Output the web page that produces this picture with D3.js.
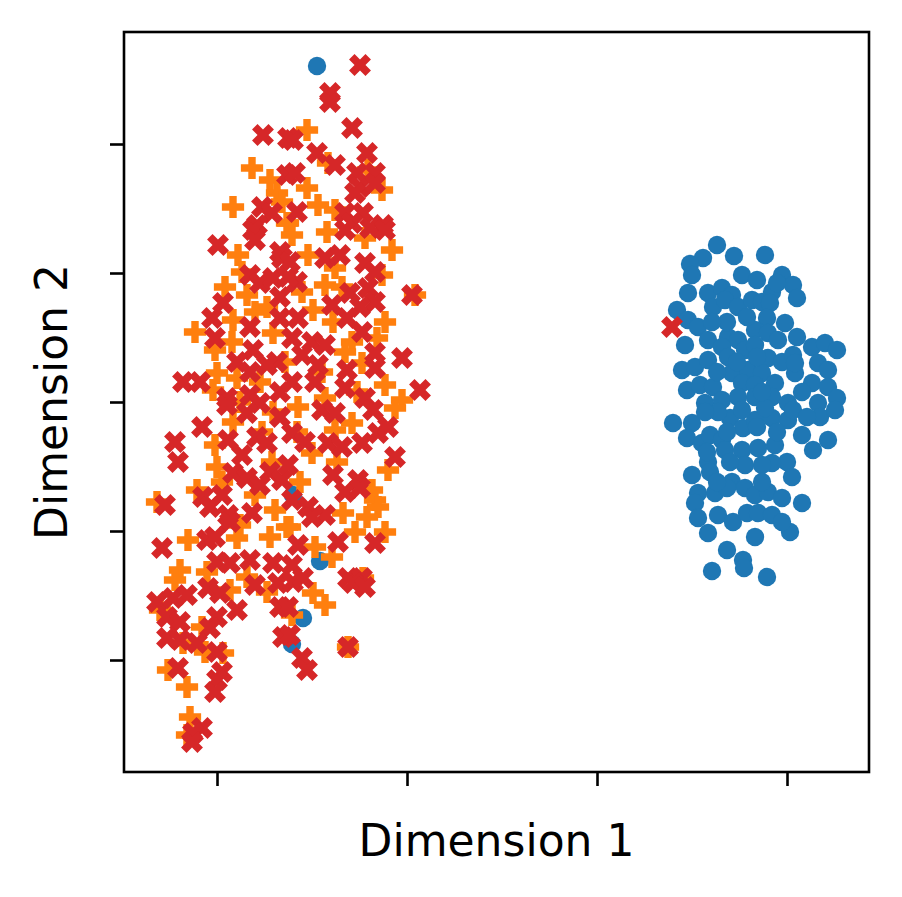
<!DOCTYPE html>
<html>
<head>
<meta charset="utf-8">
<script src="https://cdn.jsdelivr.net/npm/d3@7"></script>
<style>
  body { margin: 0; background: #fff; }
  text { font-family: "DejaVu Sans", sans-serif; }
</style>
</head>
<body>
<svg id="chart" width="902" height="897"></svg>
<script>
// cluster of blue dots (class 0)
var blueX = [12.0,13.7,16.8,10.6,9.3,9.5,14.5,16.0,18.5,19.6,20.0,9.1,11.1,12.5,13.5,11.6,12.8,14.1,15.5,16.5,17.5,18.0,17.3,8.0,9.1,17.0,18.8,10.1,13.1,15.8,17.1,18.1,8.8,11.1,14.1,12.5,14.8,15.8,21.5,22.8,24.0,8.5,9.8,11.1,13.1,17.1,18.5,19.6,22.1,23.1,13.5,15.1,16.5,19.8,9.0,10.3,11.6,14.5,15.8,17.8,21.5,23.1,24.0,10.8,12.5,14.1,15.8,17.5,19.1,22.1,19.8,
  7.6,9.5,9.0,10.5,11.3,12.5,13.3,14.6,15.8,17.5,19.1,20.5,22.3,23.8,21.6,23.1,12.8,14.5,16.1,17.8,19.0,17.5,16.5,14.8,13.3,11.1,9.5,11.3,13.5,14.8,15.8,17.1,18.5,20.5,10.1,11.8,9.8,13.0,10.1,12.1,13.6,15.0,16.1,17.5,11.1,15.8,19.3,13.0,14.6,14.7,11.5,17.0,12.1,10.8,14.5,16.8,19.6,
  16.0,18.0,13.0,11.0,16.5,19.5,12.0,14.0,16.0,20.5,21.0,13.0,15.0,11.5,20.0,16.5,12.0,18.5,
  -28.0,-30.4,-27.7,-29.4,-30.5];
var blueY = [15.7,14.6,14.7,14.4,13.8,12.7,12.7,12.2,12.7,11.7,10.4,10.9,10.9,11.4,10.7,9.5,10.2,9.5,10.2,10.0,11.0,11.9,9.9,9.2,8.2,8.4,7.9,7.5,6.5,7.2,6.9,6.2,5.7,6.2,6.2,5.5,5.2,5.7,5.5,5.9,5.2,3.2,3.5,4.2,4.5,4.4,4.0,4.7,3.9,3.2,2.9,3.2,2.9,2.9,1.2,1.7,1.5,1.9,1.7,1.9,1.9,1.5,0.4,-0.1,0.2,0.5,0.5,0.5,-0.1,-0.1,3.9,
  -2.1,-2.1,-3.6,-4.1,-3.3,-3.8,-1.6,-2.6,-1.8,-1.6,-1.8,-3.3,-1.5,-0.8,-4.8,-3.8,-4.8,-4.8,-4.6,-4.3,-6.0,-6.1,-6.3,-6.3,-6.0,-6.0,-7.3,-7.0,-8.0,-8.6,-9.3,-9.0,-9.6,-10.1,-9.1,-9.1,-10.1,-8.6,-11.6,-11.3,-12.0,-11.1,-11.1,-11.3,-13.1,-13.5,-13.0,-14.8,-15.8,-16.6,-16.9,-17.5,-1.0,-1.0,-0.8,-0.6,-0.8,
  -2.5,-3.0,-3.0,-5.0,-8.0,-7.5,3.0,4.0,4.5,1.0,-1.5,8.0,8.5,8.0,6.5,1.0,-8.0,-12.0,
  33.6,-9.3,-15.9,-21.6,-24.2];

// orange plus markers (class 1)
var orangeX = [-34.5,-32.7,-36.4,-32.0,-31.0,
  -29.0,-26.9,-22.9,-21.5,-29.0,-27.9,-26.2,-30.9,
  -35.9,-37.2,-35.0,-34.2,-36.4,-40.2,-32.4,-38.2,-38.0,-36.0,-33.7,-38.4,-35.7,
  -30.5,-23.2,-20.5,-28.9,-26.2,-21.5,-27.2,-18.2,-28.4,-21.2,-26.4,-24.5,-22.0,-25.2,-23.5,-31.2,-21.2,-27.2,-19.5,
  -36.4,-32.4,-38.2,-38.0,-32.5,-40.0,-34.2,-44.0,-32.2,-35.7,-36.0,-40.9,-32.7,-41.7,-31.0,
  -29.9,-20.2,-24.5,-28.5,-20.9,-26.2,-29.7,-22.2,-22.5,-25.4,-21.9,-30.7,-24.2,-21.2,-26.5,-28.2,
  -42.2,-36.7,-35.0,-43.7,-39.5,-37.4,-41.4,-39.2,-42.9,-41.0,-40.7,-41.0,
  -28.4,-27.2,-23.4,-30.5,-24.9,
  -35.5,-33.0,-36.5,-29.5,-27.5,-24.0,-33.5,-37.5,-30.0,-26.0,-23.0,-39.0,-33.0,-27.0,-31.5,-25.5];
var orangeY = [23.4,22.2,19.5,20.9,17.9,
  27.2,23.9,23.2,21.2,21.4,19.7,19.2,17.9,
  14.7,11.5,10.7,9.0,8.2,7.0,6.9,5.2,2.9,2.4,2.0,1.2,0.0,
  16.7,16.4,15.2,14.7,13.4,12.7,11.7,10.7,9.2,8.0,8.0,6.0,6.4,5.0,3.9,4.0,1.7,0.4,0.2,
  -2.0,-1.0,-4.3,-6.5,-6.0,-8.8,-9.3,-10.0,-10.8,-12.3,-13.6,-13.8,-13.5,-16.8,-12.5,
  -0.5,-0.6,-2.1,-5.1,-6.8,-2.8,-8.0,-9.8,-8.8,-11.1,-10.5,-12.5,-13.0,-13.0,-15.5,-14.5,
  -17.8,-18.8,-17.5,-20.8,-22.5,-25.1,-24.1,-25.0,-26.8,-28.5,-31.5,-33.3,
  -19.1,-20.3,-17.6,-21.3,-24.5,
  13.0,9.5,6.0,11.0,3.0,1.0,-3.0,-8.0,-3.0,-6.0,-11.5,-17.0,-19.0,17.0,20.0,11.5];

// red x markers (class 2)
var redX = [-33.4,-30.9,-31.0,-33.5,-32.5,-34.0,
  -23.7,-26.7,-26.7,-24.5,-30.4,-28.0,-23.0,-26.2,-30.2,-24.0,-22.2,-23.7,-22.2,-24.2,-30.0,-25.2,-23.4,-24.5,-21.4,
  -34.4,-34.2,-37.9,-31.7,-31.5,-34.7,-33.7,-32.4,-37.4,-31.7,-38.5,-34.7,-38.2,-31.7,-34.4,-36.0,-32.0,-41.4,-39.7,-34.7,-33.0,-37.0,-34.7,-31.7,-33.7,
  -25.2,-22.7,-21.2,-27.2,-25.7,-23.2,-30.7,-22.2,-30.0,-30.9,-24.7,-22.9,-18.5,-22.2,-26.5,-23.7,-29.9,-25.0,-23.5,-30.5,-28.5,-27.2,-29.5,-22.2,-19.5,-27.9,-25.0,-22.2,-30.5,-28.2,-25.2,-17.7,-23.2,
  -37.0,-35.0,-31.7,-39.5,-42.2,-41.9,-36.9,-34.0,-33.0,-35.5,-36.4,-35.0,-32.7,-33.7,-31.5,-39.4,-37.5,-43.2,-38.7,-36.9,-36.7,-34.5,-39.0,-38.2,-43.5,-38.0,-36.7,-34.7,-32.4,
  -27.5,-26.2,-22.4,-30.5,-29.2,-26.9,-25.5,-23.5,-21.9,-20.9,-20.2,-30.9,-26.4,-23.9,-25.2,-23.7,-30.5,-28.9,-27.2,-28.5,-22.2,-25.9,-29.9,-30.5,-24.9,-23.5,
  -44.0,-42.4,-41.0,-38.9,-37.7,-34.2,-31.9,-36.0,-43.0,-41.7,-38.0,-38.7,-43.0,-41.7,-40.0,-38.0,-31.7,-31.4,-41.9,-37.5,-38.0,-38.2,-39.5,-40.4,-40.5,
  -30.4,-29.4,-24.4,-23.2,-30.9,-30.7,-29.5,-29.0,-24.9,
  7.5];
var redY = [26.7,26.4,22.7,19.5,18.9,17.7,
  33.7,30.9,30.0,27.4,26.2,24.9,24.9,23.7,22.9,22.9,22.9,21.5,21.9,20.9,19.0,18.9,18.9,17.9,17.7,
  17.2,16.2,15.7,15.0,14.4,12.7,11.9,12.4,9.9,10.5,8.4,7.5,6.4,8.4,5.2,4.0,4.0,2.0,2.0,3.0,3.7,0.4,0.7,1.0,-0.1,
  17.2,17.4,17.2,14.4,14.7,13.9,14.0,13.0,12.0,12.5,10.9,11.4,10.7,10.0,9.7,9.5,8.4,8.4,7.0,6.4,6.0,5.7,4.7,4.9,4.4,3.7,3.2,3.4,2.0,2.0,1.4,1.2,0.4,
  -0.3,-1.1,-1.5,-2.5,-4.0,-6.0,-3.8,-3.5,-4.1,-5.3,-7.1,-7.6,-7.0,-8.3,-7.8,-9.5,-9.3,-10.3,-10.5,-11.3,-12.0,-11.1,-13.8,-13.5,-14.6,-16.0,-16.1,-15.8,-16.1,
  -0.8,-1.1,-0.8,-3.1,-4.0,-4.1,-4.5,-4.1,-3.1,-2.5,-5.5,-6.3,-7.3,-7.8,-9.0,-8.6,-9.8,-10.5,-11.3,-11.5,-14.1,-14.0,-14.3,-16.3,-17.6,-17.6,
  -20.0,-19.6,-19.3,-18.6,-19.1,-18.3,-18.1,-20.8,-21.5,-22.0,-21.5,-22.6,-23.6,-23.8,-24.1,-25.0,-20.5,-23.5,-26.6,-27.0,-27.8,-29.0,-32.6,-33.1,-34.0,
  -18.0,-17.6,-18.1,-18.5,-20.5,-23.3,-25.6,-26.8,-24.5,
  7.5];

// unlabeled ticks
var xTicks = [-38, -19, 0, 19];
var yTicks = [-25.8, -12.9, 0, 12.9, 25.8];

var svg = d3.select('#chart');
var plot = {l: 124, r: 869, t: 32, b: 772};

var xScale = d3.scaleLinear().domain([-47.3, 27.2]).range([plot.l, plot.r]);
var yScale = d3.scaleLinear().domain([-37, 37]).range([plot.b, plot.t]);

function zip(xs, ys) {
    return xs.map(function(x, i) { return {x: x, y: ys[i]}; });
}

var series = [
    {pts: zip(blueX, blueY), color: '#1f77b4', type: d3.symbolCircle, size: 265, rot: 0},
    {pts: zip(orangeX, orangeY), color: '#ff7f0e', type: d3.symbolCross, size: 275, rot: 0},
    {pts: zip(redX, redY), color: '#d62728', type: d3.symbolCross, size: 300, rot: 45}
];

var marksG = svg.append('g');
series.forEach(function(s) {
    var sym = d3.symbol().type(s.type).size(s.size);
    marksG.append('g').selectAll('path')
        .data(s.pts)
        .enter().append('path')
        .attr('d', sym)
        .attr('fill', s.color)
        .attr('transform', function(d) {
            return 'translate(' + [xScale(d.x), yScale(d.y)] + ') rotate(' + s.rot + ')';
        });
});

// axes
svg.append('g')
    .attr('transform', 'translate(0,' + plot.b + ')')
    .call(d3.axisBottom(xScale).tickValues(xTicks).tickFormat('').tickSize(14).tickSizeOuter(0))
    .call(function(g) { g.select('.domain').remove(); })
    .selectAll('line').attr('stroke-width', 2.6);

svg.append('g')
    .attr('transform', 'translate(' + plot.l + ',0)')
    .call(d3.axisLeft(yScale).tickValues(yTicks).tickFormat('').tickSize(14).tickSizeOuter(0))
    .call(function(g) { g.select('.domain').remove(); })
    .selectAll('line').attr('stroke-width', 2.6);

svg.append('rect')
    .attr('x', plot.l).attr('y', plot.t)
    .attr('width', plot.r - plot.l).attr('height', plot.b - plot.t)
    .attr('fill', 'none').attr('stroke', '#000').attr('stroke-width', 2.6);

// axis labels
svg.append('text')
    .attr('x', (plot.l + plot.r) / 2).attr('y', 856)
    .attr('text-anchor', 'middle')
    .style('font-size', '44px')
    .text('Dimension 1');

svg.append('text')
    .attr('transform', 'translate(67,' + (plot.t + plot.b) / 2 + ') rotate(-90)')
    .attr('text-anchor', 'middle')
    .style('font-size', '44px')
    .text('Dimension 2');
</script>
</body>
</html>
